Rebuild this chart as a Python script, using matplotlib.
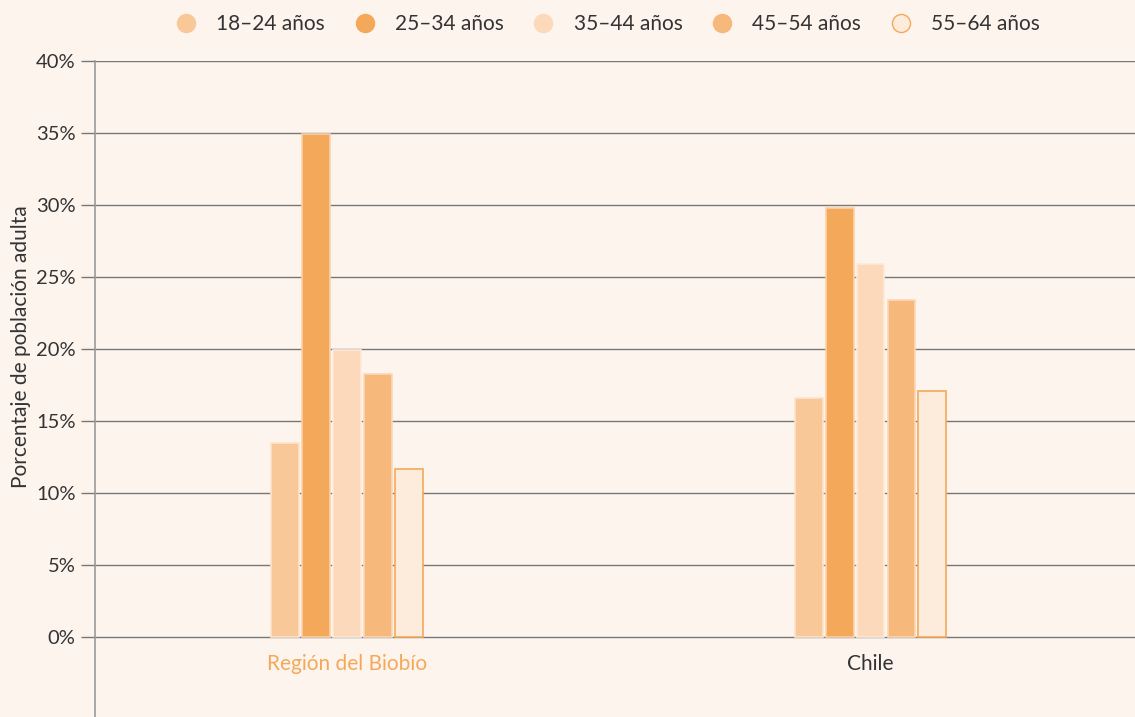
import numpy as np
import matplotlib
matplotlib.use("Agg")
from matplotlib import pyplot as plt
from matplotlib.lines import Line2D

plt.rcParams['font.family'] = ['Lato', 'DejaVu Sans']

regiones = ["Región del Biobío", "Chile"]
grupos = ["18–24 años", "25–34 años", "35–44 años", "45–54 años", "55–64 años"]
valores = {
    "18–24 años": [13.5, 16.6],
    "25–34 años": [34.9, 29.8],
    "35–44 años": [19.9, 25.9],
    "45–54 años": [18.3, 23.4],
    "55–64 años": [11.7, 17.1],
}
colores = ["#F8C899", "#F4A95A", "#FBD9BA", "#F6B87B", "#FDEBDB"]
bordes = ["#FCE3CC", "#FBD2A8", "#FDEBDB", "#FBD8B5", "#F4A95A"]
color_region = ["#F4A95A", "#333333"]
yticks = [0, 5, 10, 15, 20, 25, 30, 35, 40]

fondo = "#FDF4EE"
fig = plt.figure(figsize=(11.35, 7.17), dpi=100, facecolor=fondo)
ax = fig.add_axes([95 / 1135, 0, 1 - 95 / 1135, 1 - 61 / 717])
ax.set_facecolor(fondo)

x = np.arange(len(regiones))
ancho = 0.053
paso = 0.059
for i, g in enumerate(grupos):
    ax.bar(x + (i - 2) * paso, valores[g], width=ancho, color=colores[i],
           edgecolor=bordes[i], linewidth=1.2, zorder=3)

ax.set_xlim(-0.481, 1.505)
ax.set_ylim(-5.55, 40)
ax.set_yticks(yticks)
ax.set_yticklabels([f"{t}%" for t in yticks], fontsize=14.5, color="#333333")
ax.tick_params(axis='y', length=10, width=1, color="#777777", pad=4)
ax.set_xticks([])
for t in yticks:
    ax.axhline(t, color="#777777", linewidth=1, zorder=1)
for s in ["top", "right", "bottom"]:
    ax.spines[s].set_visible(False)
ax.spines["left"].set_color("#9A9A9A")
ax.spines["left"].set_linewidth(1.2)

for xi, nombre, c in zip(x, regiones, color_region):
    ax.text(xi, -1.9, nombre, ha='center', va='center', fontsize=15, color=c)

ax.set_ylabel("Porcentaje de población adulta", fontsize=15, color="#333333")
ax.yaxis.set_label_coords(-0.062, 0.565)

handles = [Line2D([], [], linestyle='none', marker='o', markersize=13,
                  markerfacecolor=colores[i], markeredgecolor=(colores[i] if i < 4 else "#F4A95A"),
                  markeredgewidth=1) for i in range(len(grupos))]
fig.legend(handles, grupos, loc='upper center', ncol=5, frameon=False,
           bbox_to_anchor=(0.531, 1.006), fontsize=15, handletextpad=0.45,
           columnspacing=0.9, labelcolor="#333333")

fig.savefig("out.png", dpi=100, facecolor=fondo)
